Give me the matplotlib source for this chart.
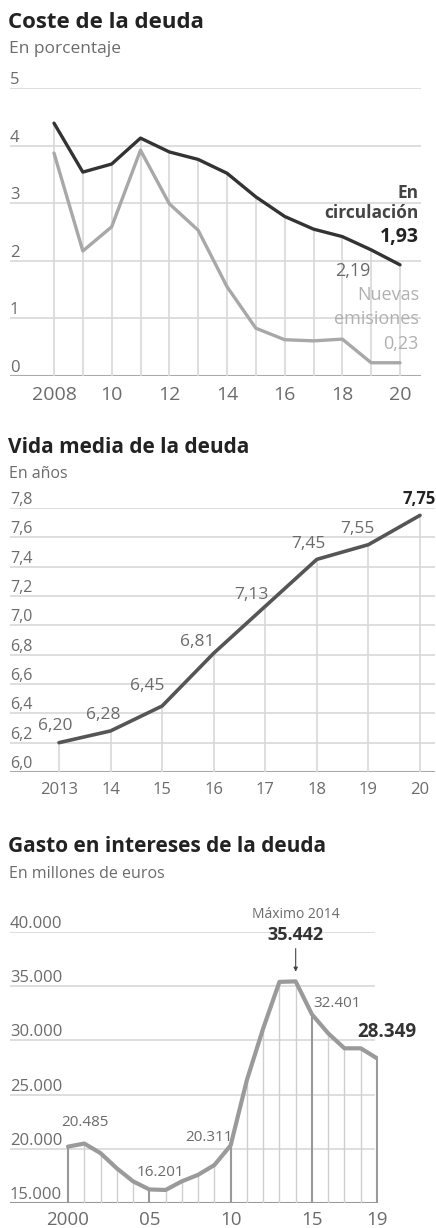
import matplotlib.pyplot as plt
import numpy as np

W, H = 436, 1228

# --- datos ---
anos_coste = [2008, 2009, 2010, 2011, 2012, 2013, 2014, 2015, 2016, 2017, 2018, 2019, 2020]
en_circulacion = [4.39, 3.54, 3.68, 4.13, 3.89, 3.76, 3.52, 3.11, 2.77, 2.55, 2.42, 2.19, 1.93]
nuevas_emisiones = [3.87, 2.17, 2.59, 3.92, 2.99, 2.53, 1.55, 0.83, 0.63, 0.61, 0.64, 0.23, 0.23]
ticks_coste = [2008, 2010, 2012, 2014, 2016, 2018, 2020]
etiq_coste = ["2008", "10", "12", "14", "16", "18", "20"]
y_coste = [0, 1, 2, 3, 4, 5]

anos_vida = [2013, 2014, 2015, 2016, 2017, 2018, 2019, 2020]
vida_media = [6.20, 6.28, 6.45, 6.81, 7.13, 7.45, 7.55, 7.75]
etiq_vida = ["2013", "14", "15", "16", "17", "18", "19", "20"]
y_vida = [6.0, 6.2, 6.4, 6.6, 6.8, 7.0, 7.2, 7.4, 7.6, 7.8]

anos_gasto = list(range(2000, 2020))
gasto = [20200, 20485, 19600, 18200, 17000, 16250, 16201, 17000, 17600, 18500,
         20311, 26350, 31100, 35400, 35442, 32401, 30650, 29270, 29270, 28349]
ticks_gasto = [2000, 2005, 2010, 2015, 2019]
etiq_gasto = ["2000", "05", "10", "15", "19"]
y_gasto = [15000, 20000, 25000, 30000, 35000, 40000]

plt.rcParams['font.family'] = ['Open Sans', 'DejaVu Sans']

GRIS_TXT = "#6b6b6b"
GRID = "#d8d8d8"


def px_axes(fig, x0, x1, y0, y1):
    # caja en pixeles (y desde arriba)
    return fig.add_axes([x0 / W, 1 - y1 / H, (x1 - x0) / W, (y1 - y0) / H])


def limpiar(ax):
    for s in ax.spines.values():
        s.set_visible(False)
    ax.set_yticks([])
    ax.tick_params(axis='x', length=0, colors=GRIS_TXT)


def coma(v, n=2):
    return f"{v:.{n}f}".replace(".", ",")


def miles(v):
    return f"{v:,.0f}".replace(",", ".")


fig = plt.figure(figsize=(W / 100, H / 100), dpi=100)
fig.patch.set_facecolor("white")


def titulo(y, t, sub, ft, fs):
    fig.text(8 / W, 1 - y / H, t, fontsize=ft, fontweight='bold', color="#222", va='center')
    fig.text(9 / W, 1 - (y + 27) / H, sub, fontsize=fs, color=GRIS_TXT, va='center')


# ---------------- Coste de la deuda ----------------
titulo(22, "Coste de la deuda", "En porcentaje", 16, 12.5)
ax1 = px_axes(fig, 10, 421, 88, 376)
ax1.set_xlim(2008 - 44 * 12 / 346, 2020 + 21 * 12 / 346)
ax1.set_ylim(0, 5)
limpiar(ax1)
for v in y_coste[1:]:
    ax1.axhline(v, color=GRID, lw=1.2, zorder=0)
for v in y_coste:
    ax1.text(0, v, str(v), transform=ax1.get_yaxis_transform(), fontsize=12,
             color=GRIS_TXT, va='bottom', ha='left')
ax1.axhline(0, color="#aaa", lw=1.5, zorder=0)
ax1.vlines(anos_coste, 0, np.maximum(en_circulacion, nuevas_emisiones), color=GRID, lw=1.2, zorder=0)
ax1.plot(anos_coste, nuevas_emisiones, color="#a8a8a8", lw=2.4, solid_capstyle='round')
ax1.plot(anos_coste, en_circulacion, color="#333333", lw=2.4, solid_capstyle='round')
ax1.set_xticks(ticks_coste)
ax1.set_xticklabels(etiq_coste, fontsize=14)
ax1.tick_params(axis='x', pad=7)

ult = (anos_coste[-1], en_circulacion[-1])
ax1.annotate("En", ult, xytext=(19, 72), textcoords='offset pixels', ha='right', va='center',
             fontsize=12.5, fontweight='bold', color="#444")
ax1.annotate("circulación", ult, xytext=(19, 52), textcoords='offset pixels', ha='right', va='center',
             fontsize=12.5, fontweight='bold', color="#444")
ax1.annotate(coma(en_circulacion[-1]), ult, xytext=(19, 28), textcoords='offset pixels', ha='right',
             va='center', fontsize=14, fontweight='bold', color="#222")
ax1.annotate(coma(en_circulacion[-2]), (anos_coste[-2], en_circulacion[-2]), xytext=(-18, -21),
             textcoords='offset pixels', ha='center', va='center', fontsize=13, color=GRIS_TXT)
ult_n = (anos_coste[-1], nuevas_emisiones[-1])
for txt, dy in [("Nuevas", 68), ("emisiones", 44), (coma(nuevas_emisiones[-1]), 19)]:
    ax1.annotate(txt, ult_n, xytext=(19, dy), textcoords='offset pixels', ha='right', va='center',
                 fontsize=13, color="#b0b0b0")

# ---------------- Vida media de la deuda ----------------
titulo(447, "Vida media de la deuda", "En años", 15, 11.5)
ax2 = px_axes(fig, 10, 435, 508, 772)
k = 7 / 361
ax2.set_xlim(2013 - 49 * k, 2020 + 15 * k)
ax2.set_ylim(6.0, 7.8)
limpiar(ax2)
for v in y_vida[1:]:
    ax2.axhline(v, color=GRID, lw=1.2, zorder=0)
for v in y_vida:
    ax2.text(0, v, coma(v, 1), transform=ax2.get_yaxis_transform(), fontsize=11.5,
             color=GRIS_TXT, va='bottom', ha='left')
ax2.axhline(6.0, color="#aaa", lw=1.5, zorder=0)
ax2.vlines(anos_vida, 6.0, vida_media, color=GRID, lw=1.2, zorder=0)
ax2.plot(anos_vida, vida_media, color="#555555", lw=2.6, solid_capstyle='round')
ax2.set_xticks(anos_vida)
ax2.set_xticklabels(etiq_vida, fontsize=12)
ax2.tick_params(axis='x', pad=7)

offs = [(-4, 17), (-7, 16), (-15, 20), (-16, 11), (-14, 11), (-8, 15), (-11, 16)]
for a, v, o in zip(anos_vida[:-1], vida_media[:-1], offs):
    ax2.annotate(coma(v), (a, v), xytext=o, textcoords='offset pixels', ha='center', va='center',
                 fontsize=12.5, color=GRIS_TXT)
ax2.annotate(coma(vida_media[-1]), (anos_vida[-1], vida_media[-1]), xytext=(16, 16),
             textcoords='offset pixels', ha='right', va='center', fontsize=12,
             fontweight='bold', color="#222")

# ---------------- Gasto en intereses ----------------
titulo(847, "Gasto en intereses de la deuda", "En millones de euros", 15, 11.5)
ax3 = px_axes(fig, 10, 378, 932, 1203)
k = 19 / 309
ax3.set_xlim(2000 - 58 * k, 2019 + 1 * k)
ax3.set_ylim(15000, 40000)
limpiar(ax3)
for v in y_gasto[1:]:
    ax3.axhline(v, xmax=0.99, color=GRID, lw=1.2, zorder=0)
for v in y_gasto:
    ax3.text(0, v, miles(v), transform=ax3.get_yaxis_transform(), fontsize=12,
             color=GRIS_TXT, va='bottom', ha='left')
ax3.axhline(15000, color="#999", lw=1.5, zorder=0)
finos = [a for a in anos_gasto if a not in ticks_gasto]
ax3.vlines(finos, 15000, [gasto[anos_gasto.index(a)] for a in finos], color="#cfcfcf", lw=1.0, zorder=0)
ax3.vlines(ticks_gasto, 15000, [gasto[anos_gasto.index(a)] for a in ticks_gasto], color="#999",
           lw=1.5, zorder=0)
ax3.plot(anos_gasto, gasto, color="#9a9a9a", lw=3, solid_capstyle='round', solid_joinstyle='round')
ax3.set_xticks(ticks_gasto)
ax3.set_xticklabels(etiq_gasto, fontsize=13.5)
ax3.tick_params(axis='x', pad=6)

imax = int(np.argmax(gasto))
pmax = (anos_gasto[imax], gasto[imax])
ax3.annotate(miles(gasto[imax]), pmax, xytext=(0, 37), textcoords='offset pixels', ha='center',
             va='bottom', fontsize=13, fontweight='bold', color="#333",
             arrowprops=dict(arrowstyle='-|>', color="#444", lw=0.8, mutation_scale=6,
                             shrinkA=1, shrinkB=7))
ax3.annotate(f"Máximo {anos_gasto[imax]}", pmax, xytext=(0, 67), textcoords='offset pixels',
             ha='center', va='center', fontsize=10, color=GRIS_TXT)
imin = int(np.argmin(gasto))
etq3 = [(2001, (1, 21), False), (anos_gasto[imin], (-5, 17), False), (2010, (-22, 8), False),
        (2015, (25, 11), False), (2019, (10, 26), True)]
for a, o, neg in etq3:
    v = gasto[anos_gasto.index(a)]
    ax3.annotate(miles(v), (a, v), xytext=o, textcoords='offset pixels', ha='center', va='center',
                 fontsize=13.5 if neg else 11, fontweight='bold' if neg else 'normal',
                 color="#333" if neg else GRIS_TXT)

fig.savefig("out.png", dpi=100, facecolor="white")
